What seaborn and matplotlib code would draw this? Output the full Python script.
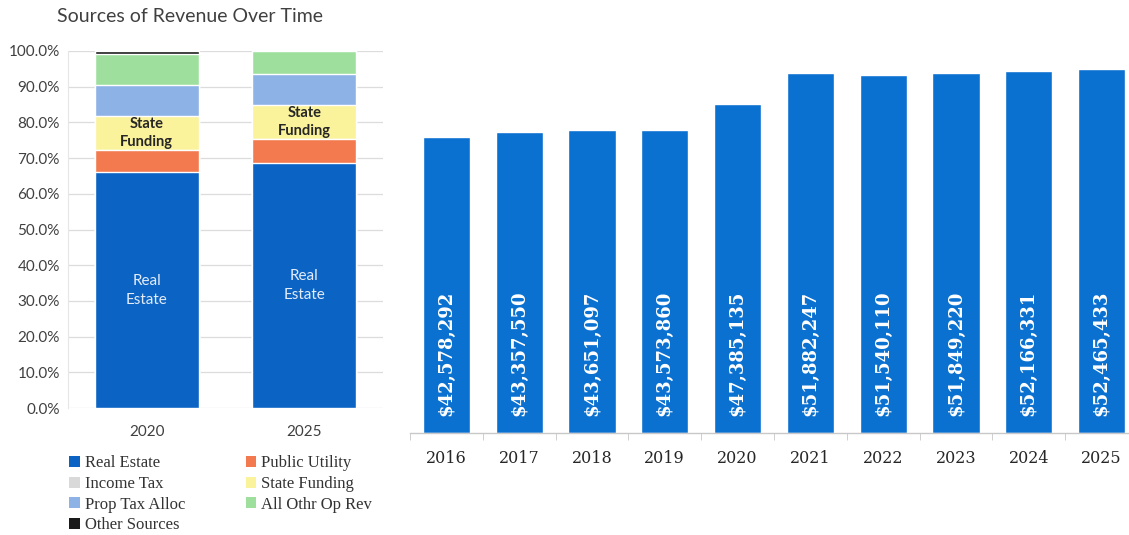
import numpy as np
import pandas as pd
import seaborn as sns
import matplotlib.pyplot as plt
from matplotlib.patches import Patch

# left: share of revenue by source (percent)
share_years = ["2020", "2025"]
sources = ["Real Estate", "Public Utility", "Income Tax", "State Funding",
           "Prop Tax Alloc", "All Othr Op Rev", "Other Sources"]
real_estate = [66.0, 68.5]
public_utility = [6.2, 6.9]
income_tax = [0.0, 0.0]
state_funding = [9.6, 9.6]
prop_tax_alloc = [8.6, 8.6]
all_othr_op_rev = [8.7, 6.3]
other_sources = [0.9, 0.1]
source_colors = ["#0b63c4", "#f27a4e", "#d9d9d9", "#fbf29c",
                 "#8db3e6", "#9edf9e", "#1a1a1a"]

# right: total revenue by year
years = ["2016", "2017", "2018", "2019", "2020",
         "2021", "2022", "2023", "2024", "2025"]
revenue = [42578292, 43357550, 43651097, 43573860, 47385135,
           51882247, 51540110, 51849220, 52166331, 52465433]

sns.set_style("white")
plt.rcParams["font.family"] = ["Lato", "DejaVu Sans"]

fig = plt.figure(figsize=(11.29, 5.35), dpi=100)

# ---- stacked share chart ----
ax1 = fig.add_axes([68 / 1129, 127 / 535, 315 / 1129, 357 / 535])
layers = [real_estate, public_utility, income_tax, state_funding,
          prop_tax_alloc, all_othr_op_rev, other_sources]
share = pd.DataFrame(dict(zip(sources, layers)), index=share_years)
cum = share.cumsum(axis=1)

# draw tallest cumulative layer first so lower ones sit on top
for src, col in reversed(list(zip(sources, source_colors))):
    sns.barplot(x=share_years, y=cum[src].values, color=col, width=0.66,
                saturation=1, ax=ax1, zorder=2)

for i, yr in enumerate(share_years):
    re_mid = share.loc[yr, "Real Estate"] / 2
    ax1.text(i, re_mid, "Real\nEstate", ha="center", va="center",
             color="#e4ecf7", fontsize=11, linespacing=1.45, zorder=3)
    sf_mid = cum.loc[yr, "Public Utility"] + share.loc[yr, "State Funding"] / 2
    ax1.text(i, sf_mid, "State\nFunding", ha="center", va="center",
             color="#262626", fontsize=10.5, fontweight="bold",
             linespacing=1.35, zorder=3)

ax1.set_ylim(0, 100)
ax1.set_xlim(-0.5, 1.5)
ax1.set_yticks(np.arange(0, 101, 10))
ax1.set_yticklabels([f"{v:.1f}%" for v in np.arange(0, 101, 10)])
ax1.yaxis.grid(True, color="#dcdcdc", lw=0.9, zorder=0)
ax1.set_axisbelow(True)
for s in ["top", "right", "bottom"]:
    ax1.spines[s].set_visible(False)
ax1.spines["left"].set_color("#e6e6e6")
ax1.spines["left"].set_linewidth(0.8)
ax1.tick_params(axis="y", length=0, labelsize=11, labelcolor="#404040", pad=6)
ax1.tick_params(axis="x", length=0, labelsize=11, labelcolor="#404040", pad=12)
ax1.set_xlabel("")
ax1.set_ylabel("")

fig.text(57 / 1129, 1 - 16 / 535, "Sources of Revenue Over Time",
         fontsize=14, color="#404040", va="center", ha="left")

# legend filled row by row (matplotlib fills column first)
order = [0, 2, 4, 6, 1, 3, 5]
handles = [Patch(facecolor=source_colors[k], edgecolor="none") for k in order]
labels = [sources[k] for k in order]
fig.legend(handles, labels, loc="upper left",
           bbox_to_anchor=(61 / 1129, 1 - 447 / 535), ncol=2, frameon=False,
           prop={"family": "Liberation Serif", "size": 12},
           handlelength=0.65, handleheight=0.65, handletextpad=0.3,
           columnspacing=3.6, labelspacing=0.28, borderpad=0,
           labelcolor="#333333")

# ---- yearly revenue chart ----
ax2 = fig.add_axes([410 / 1129, 102 / 535, 728 / 1129, 382 / 535])
sns.barplot(x=years, y=revenue, color="#0b71d1", saturation=1,
            width=0.65, ax=ax2)
ax2.set_ylim(0, 55.0e6)
ax2.set_xlim(-0.5, len(years) - 0.5)
for i, v in enumerate(revenue):
    ax2.annotate(f"${v:,.0f}", xy=(i, 0), xytext=(0, 12),
                 textcoords="offset points", rotation=90, ha="center",
                 va="bottom", color="white", fontsize=13, fontweight="bold",
                 family="DejaVu Serif")
ax2.set_yticks([])
for s in ["top", "right", "left"]:
    ax2.spines[s].set_visible(False)
ax2.spines["bottom"].set_color("#c8c8c8")
ax2.spines["bottom"].set_linewidth(1)
ax2.set_xticks(np.arange(-0.5, len(years), 1), minor=True)
ax2.tick_params(axis="x", which="major", length=0, pad=12, labelsize=11.5,
                labelcolor="#262626")
ax2.tick_params(axis="x", which="minor", length=5, color="#c8c8c8",
                direction="out", bottom=True)
for lab in ax2.get_xticklabels():
    lab.set_family("DejaVu Serif")
ax2.set_xlabel("")
ax2.set_ylabel("")

fig.savefig("out.png", dpi=100)
